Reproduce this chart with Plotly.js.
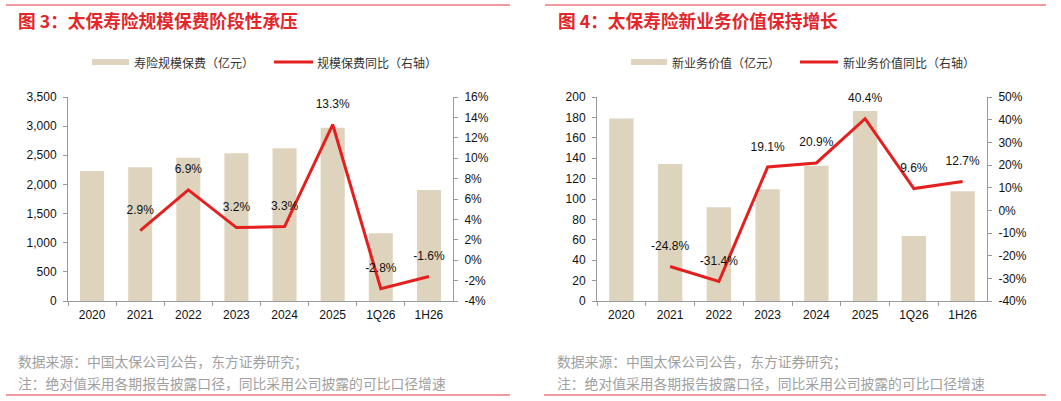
<!DOCTYPE html>
<html>
<head>
<meta charset="utf-8">
<script src="https://cdn.plot.ly/plotly-3.0.1.min.js"></script>
<style>html,body{margin:0;padding:0;background:#fff;}#chart{width:1061px;height:401px;}</style>
</head>
<body>
<div id="chart"></div>
<script>
// ---- data ----
const categories = ["2020", "2021", "2022", "2023", "2024", "2025", "1Q26", "1H26"];
const premium = [2230, 2294, 2459, 2534, 2620, 2974, 1161, 1904];          // 寿险规模保费（亿元）
const premiumYoY = [null, 2.9, 6.9, 3.2, 3.3, 13.3, -2.8, -1.6];            // 规模保费同比（%）
const nbv = [179, 134.3, 91.9, 109.5, 132.6, 186.3, 63.7, 107.5];          // 新业务价值（亿元）
const nbvYoY = [null, -24.8, -31.4, 19.1, 20.9, 40.4, 9.6, 12.7];          // 新业务价值同比（%）
const leftTicks = [0, 500, 1000, 1500, 2000, 2500, 3000, 3500];
const leftPctTicks = [-4, -2, 0, 2, 4, 6, 8, 10, 12, 14, 16];
const rightTicks = [0, 20, 40, 60, 80, 100, 120, 140, 160, 180, 200];
const rightPctTicks = [-40, -30, -20, -10, 0, 10, 20, 30, 40, 50];

const W = 1061, H = 401;
const px = x => x / W;
const py = y => 1 - y / H;

const BAR = "#DED4BD";
const RED = "#E3201F";
const FONT = "Liberation Sans, Arial, Noto Sans CJK SC, sans-serif";
const CJK = "Noto Sans CJK SC, Liberation Sans, sans-serif";
const AXC = "#9a9a9a";

const pctText = arr => arr.map(v => v === null ? "" : v.toFixed(1) + "%");
const pctTick = arr => arr.map(v => v + "%");
const commaTick = arr => arr.map(v => v.toLocaleString("en-US"));

const traces = [
  {type: "bar", x: categories, y: premium, xaxis: "x", yaxis: "y", marker: {color: BAR}},
  {type: "scatter", mode: "lines+markers+text", x: categories, y: premiumYoY, xaxis: "x", yaxis: "y2",
   line: {color: RED, width: 3}, marker: {size: 20, color: "rgba(0,0,0,0)"},
   text: pctText(premiumYoY), textposition: "top center", textfont: {family: FONT, size: 12, color: "#111"},
   connectgaps: false, cliponaxis: false},
  {type: "bar", x: categories, y: nbv, xaxis: "x2", yaxis: "y3", marker: {color: BAR}},
  {type: "scatter", mode: "lines+markers+text", x: categories, y: nbvYoY, xaxis: "x2", yaxis: "y4",
   line: {color: RED, width: 3}, marker: {size: 20, color: "rgba(0,0,0,0)"},
   text: pctText(nbvYoY), textposition: "top center", textfont: {family: FONT, size: 12, color: "#111"},
   connectgaps: false, cliponaxis: false}
];

const xCommon = {
  type: "category", range: [-0.5, 7.5], showline: true, linecolor: AXC, linewidth: 1, ticks: "outside", tickson: "boundaries",
  ticklen: 4, tickcolor: AXC, showgrid: false, zeroline: false, tickfont: {family: FONT, size: 12, color: "#111"},
  ticklabelstandoff: 3, fixedrange: true
};
const yCommon = {
  showline: true, linecolor: AXC, linewidth: 1, ticks: "outside", ticklen: 4, tickcolor: AXC, tickmode: "array",
  showgrid: false, zeroline: false, tickfont: {family: FONT, size: 12, color: "#111"}, ticklabelstandoff: 4, fixedrange: true
};

const yTop = py(97), yBot = py(301);

const layout = {
  width: W, height: H, autosize: false,
  margin: {l: 0, r: 0, t: 0, b: 0},
  paper_bgcolor: "#fff", plot_bgcolor: "#fff",
  showlegend: false, bargap: 0.5,
  font: {family: FONT, size: 12, color: "#111"},
  xaxis: Object.assign({}, xCommon, {domain: [px(68), px(453)], anchor: "y"}),
  yaxis: Object.assign({}, yCommon, {domain: [yBot, yTop], range: [0, 3500], tickvals: leftTicks, ticktext: commaTick(leftTicks), anchor: "x"}),
  yaxis2: Object.assign({}, yCommon, {overlaying: "y", side: "right", anchor: "x", range: [-4, 16], tickvals: leftPctTicks, ticktext: pctTick(leftPctTicks)}),
  xaxis2: Object.assign({}, xCommon, {domain: [px(597), px(987)], anchor: "y3"}),
  yaxis3: Object.assign({}, yCommon, {domain: [yBot, yTop], range: [0, 200], tickvals: rightTicks, ticktext: commaTick(rightTicks), anchor: "x2"}),
  yaxis4: Object.assign({}, yCommon, {overlaying: "y3", side: "right", anchor: "x2", range: [-40, 50], tickvals: rightPctTicks, ticktext: pctTick(rightPctTicks)}),
  shapes: [
    // frame lines
    {type: "line", xref: "paper", yref: "paper", x0: px(6), x1: px(510), y0: py(5), y1: py(5), line: {color: "#E8393B", width: 1.2}},
    {type: "line", xref: "paper", yref: "paper", x0: px(545), x1: px(1046), y0: py(5), y1: py(5), line: {color: "#E8393B", width: 1.2}},
    {type: "line", xref: "paper", yref: "paper", x0: px(6), x1: px(510), y0: py(395), y1: py(395), line: {color: "#E8393B", width: 1.2}},
    {type: "line", xref: "paper", yref: "paper", x0: px(544), x1: px(1046), y0: py(395), y1: py(395), line: {color: "#E8393B", width: 1.2}},
    // legend swatches
    {type: "rect", xref: "paper", yref: "paper", x0: px(92), x1: px(129), y0: py(65), y1: py(59), fillcolor: BAR, line: {width: 0}},
    {type: "line", xref: "paper", yref: "paper", x0: px(274), x1: px(313), y0: py(62), y1: py(62), line: {color: RED, width: 3}},
    {type: "rect", xref: "paper", yref: "paper", x0: px(631), x1: px(667), y0: py(65), y1: py(59), fillcolor: BAR, line: {width: 0}},
    {type: "line", xref: "paper", yref: "paper", x0: px(800), x1: px(838), y0: py(62), y1: py(62), line: {color: RED, width: 3}}
  ],
  annotations: [
    {text: "<b>图 3：太保寿险规模保费阶段性承压</b>", xref: "paper", yref: "paper", x: px(16), y: py(20), xanchor: "left", yanchor: "middle", showarrow: false, font: {family: CJK, size: 17.7, color: "#E3262A"}},
    {text: "<b>图 4：太保寿险新业务价值保持增长</b>", xref: "paper", yref: "paper", x: px(556), y: py(20), xanchor: "left", yanchor: "middle", showarrow: false, font: {family: CJK, size: 17.7, color: "#E3262A"}},
    {text: "寿险规模保费（亿元）", xref: "paper", yref: "paper", x: px(132), y: py(62), xanchor: "left", yanchor: "middle", showarrow: false, font: {family: CJK, size: 12, color: "#333"}},
    {text: "规模保费同比（右轴）", xref: "paper", yref: "paper", x: px(315), y: py(62), xanchor: "left", yanchor: "middle", showarrow: false, font: {family: CJK, size: 12, color: "#333"}},
    {text: "新业务价值（亿元）", xref: "paper", yref: "paper", x: px(670), y: py(62), xanchor: "left", yanchor: "middle", showarrow: false, font: {family: CJK, size: 12, color: "#333"}},
    {text: "新业务价值同比（右轴）", xref: "paper", yref: "paper", x: px(841), y: py(62), xanchor: "left", yanchor: "middle", showarrow: false, font: {family: CJK, size: 12, color: "#333"}},
    {text: "数据来源：中国太保公司公告，东方证券研究；", xref: "paper", yref: "paper", x: px(16), y: py(361), xanchor: "left", yanchor: "middle", showarrow: false, font: {family: CJK, size: 13.8, color: "#a0a0a0"}},
    {text: "注：绝对值采用各期报告披露口径，同比采用公司披露的可比口径增速", xref: "paper", yref: "paper", x: px(16), y: py(383), xanchor: "left", yanchor: "middle", showarrow: false, font: {family: CJK, size: 13.8, color: "#a0a0a0"}},
    {text: "数据来源：中国太保公司公告，东方证券研究；", xref: "paper", yref: "paper", x: px(555), y: py(361), xanchor: "left", yanchor: "middle", showarrow: false, font: {family: CJK, size: 13.8, color: "#a0a0a0"}},
    {text: "注：绝对值采用各期报告披露口径，同比采用公司披露的可比口径增速", xref: "paper", yref: "paper", x: px(555), y: py(383), xanchor: "left", yanchor: "middle", showarrow: false, font: {family: CJK, size: 13.8, color: "#a0a0a0"}}
  ]
};

Plotly.newPlot("chart", traces, layout, {displayModeBar: false, staticPlot: true});
</script>
</body>
</html>
